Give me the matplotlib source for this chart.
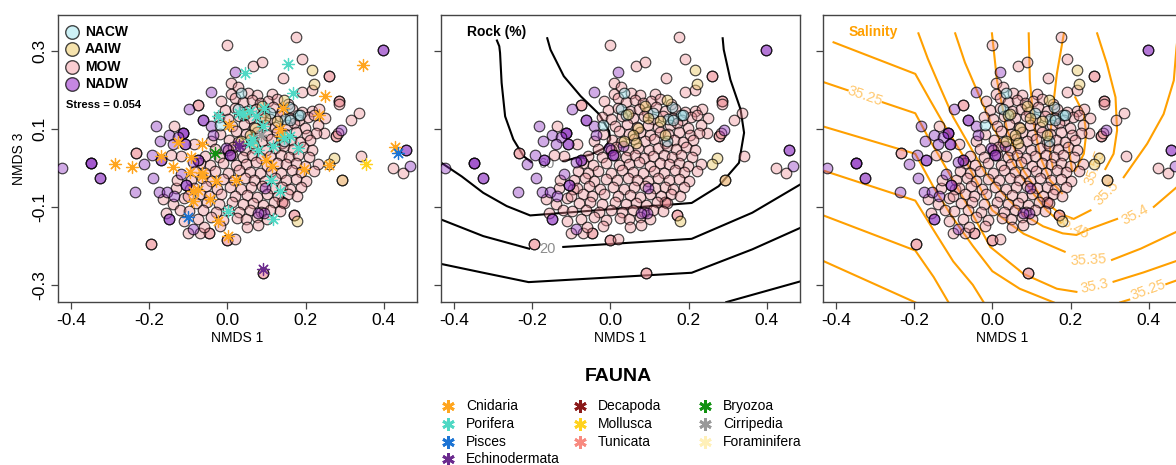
import numpy as np
import matplotlib
matplotlib.use("Agg")
import matplotlib.pyplot as plt
from matplotlib.colors import to_rgba

plt.rcParams['font.family'] = ['Liberation Sans', 'DejaVu Sans']

# ---------------- data ----------------
water_masses = ['NACW', 'AAIW', 'MOW', 'NADW']
stress_text = 'Stress = 0.054'

nacw_pts = [(0.028, 0.150), (-0.020, 0.110), (0.040, 0.135), (0.157, 0.155), (0.180, 0.135),
            (0.148, 0.125), (0.145, 0.070), (0.036, 0.192), (0.160, 0.123), (0.185, 0.136),
            (0.110, 0.140)]

aaiw_pts = [(0.217, 0.250), (0.222, 0.214), (0.273, 0.026), (0.260, 0.009), (0.179, -0.137),
            (0.144, 0.175), (0.045, 0.137), (0.088, 0.158), (0.096, 0.128), (0.070, 0.103),
            (0.058, 0.085), (0.066, 0.064), (0.139, 0.085), (0.126, 0.120), (0.036, 0.068),
            (0.293, -0.030)]

mow_pts = [
    # outer points
    (0.000, 0.315), (0.176, 0.335), (0.066, 0.260), (0.088, 0.272), (0.190, 0.280), (0.260, 0.235),
    (0.260, 0.235), (0.142, 0.230), (0.009, 0.218), (0.028, 0.207), (0.010, 0.190), (0.053, 0.192),
    (0.075, 0.188), (0.190, 0.194), (0.217, 0.200), (0.286, 0.171), (0.286, 0.171), (0.286, 0.165),
    (0.019, 0.178), (0.114, 0.190), (0.337, 0.140), (0.316, 0.124), (0.217, 0.145), (0.234, 0.150),
    (0.251, 0.128), (0.247, 0.090), (0.277, 0.081), (0.277, 0.081), (0.282, 0.090), (0.342, 0.030),
    (0.293, -0.030), (0.423, 0.000), (0.449, -0.013), (-0.233, 0.037), (-0.233, 0.037),
    (-0.074, 0.160), (-0.074, 0.160), (-0.046, -0.167), (-0.046, -0.167), (0.000, -0.185),
    (0.000, -0.185), (0.019, -0.182), (-0.196, -0.195), (-0.196, -0.195), (0.092, -0.270),
    (0.092, -0.270), (0.170, -0.120), (0.170, -0.120), (0.139, -0.088), (0.139, -0.088),
    (0.002, 0.047), (0.002, 0.047), (-0.070, -0.167), (-0.110, -0.137), (-0.100, -0.167),
    # left mixed area
    (-0.140, -0.092), (-0.122, -0.108), (-0.131, -0.052), (-0.112, -0.078), (-0.158, -0.116),
    (-0.118, 0.031), (-0.145, 0.034), (-0.136, 0.107), (-0.084, 0.060), (-0.043, 0.068),
    (-0.128, -0.030), (-0.095, -0.055), (-0.165, -0.080),
    # dense core
    (-0.015, 0.172), (0.040, 0.168), (0.062, 0.175), (0.083, 0.166), (0.105, 0.171), (0.128, 0.176),
    (0.155, 0.163),
    (-0.005, 0.148), (0.020, 0.153), (0.051, 0.146), (0.074, 0.151), (0.093, 0.144), (0.118, 0.155),
    (0.141, 0.147), (0.166, 0.152), (0.190, 0.143),
    (-0.022, 0.131), (0.002, 0.126), (0.031, 0.134), (0.058, 0.127), (0.086, 0.132), (0.108, 0.125),
    (0.134, 0.133), (0.161, 0.128), (0.182, 0.122), (0.205, 0.130), (0.222, 0.136),
    (0.012, 0.108), (0.043, 0.113), (0.069, 0.106), (0.097, 0.111), (0.121, 0.104), (0.152, 0.109),
    (0.171, 0.114), (0.198, 0.103), (0.232, 0.110),
    (-0.018, 0.088), (0.021, 0.094), (0.049, 0.086), (0.076, 0.091), (0.101, 0.085), (0.126, 0.093),
    (0.147, 0.087), (0.176, 0.092), (0.203, 0.084), (0.226, 0.089),
    (0.003, 0.071), (0.028, 0.066), (0.061, 0.073), (0.089, 0.068), (0.112, 0.074), (0.139, 0.065),
    (0.163, 0.071), (0.186, 0.066), (0.211, 0.072),
    (-0.031, 0.049), (0.014, 0.053), (0.046, 0.047), (0.072, 0.052), (0.098, 0.046), (0.121, 0.051),
    (0.144, 0.055), (0.168, 0.048), (0.194, 0.053), (0.216, 0.046),
    (-0.056, 0.031), (-0.021, 0.027), (0.011, 0.033), (0.039, 0.028), (0.062, 0.032), (0.087, 0.026),
    (0.109, 0.031), (0.136, 0.034), (0.158, 0.027), (0.181, 0.032), (0.208, 0.028),
    (-0.071, 0.012), (-0.044, 0.008), (-0.011, 0.013), (0.021, 0.007), (0.048, 0.011), (0.074, 0.014),
    (0.102, 0.006), (0.126, 0.012), (0.151, 0.009), (0.176, 0.013), (0.199, 0.006), (0.231, 0.011),
    (-0.082, -0.008), (-0.058, -0.013), (-0.031, -0.007), (0.001, -0.012), (0.029, -0.006),
    (0.058, -0.011), (0.084, -0.014), (0.111, -0.008), (0.138, -0.012), (0.166, -0.006),
    (0.189, -0.011), (0.221, -0.009),
    (-0.092, -0.031), (-0.066, -0.027), (-0.041, -0.033), (-0.012, -0.028), (0.016, -0.032),
    (0.044, -0.026), (0.069, -0.031), (0.096, -0.034), (0.121, -0.027), (0.149, -0.032),
    (0.176, -0.028), (0.201, -0.033),
    (-0.086, -0.052), (-0.054, -0.047), (-0.026, -0.053), (0.006, -0.048), (0.034, -0.054),
    (0.061, -0.049), (0.089, -0.046), (0.114, -0.052), (0.139, -0.048), (0.161, -0.054),
    (0.188, -0.050),
    (-0.101, -0.071), (-0.071, -0.068), (-0.046, -0.073), (-0.016, -0.067), (0.019, -0.072),
    (0.051, -0.069), (0.076, -0.074), (0.101, -0.068), (0.129, -0.071), (0.154, -0.066),
    (0.179, -0.073),
    (-0.079, -0.091), (-0.052, -0.088), (-0.021, -0.093), (0.011, -0.087), (0.039, -0.092),
    (0.066, -0.089), (0.091, -0.094), (0.119, -0.088), (0.146, -0.091),
    (-0.099, -0.111), (-0.061, -0.108), (-0.029, -0.113), (0.001, -0.107), (0.031, -0.112),
    (0.059, -0.109), (0.086, -0.114), (0.109, -0.108), (0.134, -0.111),
    (-0.076, -0.131), (-0.041, -0.127), (-0.011, -0.133), (0.024, -0.128), (0.049, -0.132),
    (0.076, -0.126), (0.101, -0.131),
    (-0.059, -0.151), (-0.019, -0.148), (0.051, -0.152), (0.079, -0.147),
]

nadw_pts = [
    (0.398, 0.303), (0.398, 0.303), (-0.422, 0.000), (-0.349, 0.013), (-0.349, 0.013), (-0.349, 0.013),
    (-0.325, -0.026), (-0.325, -0.026), (-0.235, -0.062), (-0.213, 0.011), (-0.193, 0.034),
    (-0.183, 0.107), (-0.172, 0.068), (-0.170, 0.021), (-0.170, 0.021), (-0.189, -0.026),
    (-0.175, -0.062), (-0.153, -0.062), (-0.150, 0.085), (-0.113, 0.090), (-0.113, 0.090),
    (-0.113, 0.090), (-0.107, 0.060), (-0.107, 0.060), (-0.097, 0.150), (-0.063, 0.124),
    (-0.063, 0.124), (-0.041, 0.107), (-0.037, 0.085), (-0.076, 0.021), (-0.076, 0.021),
    (-0.118, -0.017), (-0.105, -0.043), (-0.105, -0.043), (-0.136, -0.073), (-0.149, -0.132),
    (-0.149, -0.132), (-0.089, -0.158), (0.458, 0.047), (0.458, 0.047), (0.467, 0.004),
    (0.290, 0.098), (-0.041, 0.194), (0.019, 0.245), (-0.003, 0.050), (0.032, 0.055),
    (0.006, 0.032), (0.006, 0.032), (-0.087, 0.016), (0.095, -0.116), (-0.125, 0.080),
    (-0.140, 0.060), (0.096, -0.051), (0.078, -0.115),
]

fauna_names = ['Cnidaria', 'Porifera', 'Pisces', 'Echinodermata', 'Decapoda', 'Mollusca',
               'Tunicata', 'Bryozoa', 'Cirripedia', 'Foraminifera']
fauna_colors = ['#FFA51E', '#4FD8C4', '#1C74D4', '#6B2A8E', '#8B1A1A', '#FFD21E',
                '#F88A80', '#119111', '#999999', '#FFF0B8']

fauna_pts = {
    'Cnidaria': [(0.346, 0.265), (0.249, 0.184), (0.234, 0.135), (0.142, 0.154), (0.138, 0.081),
                 (0.004, 0.109), (-0.126, 0.067), (-0.064, 0.062), (-0.169, 0.030), (-0.288, 0.010),
                 (-0.243, 0.002), (-0.139, 0.002), (-0.094, 0.027), (-0.096, -0.011), (-0.066, -0.013),
                 (-0.030, -0.034), (0.021, -0.032), (-0.088, -0.060), (-0.075, -0.056),
                 (-0.089, -0.085), (-0.045, -0.081), (-0.024, -0.135), (0.002, -0.175),
                 (0.100, 0.020), (0.115, 0.004), (0.197, -0.004), (0.261, 0.007), (0.430, 0.054),
                 (0.135, 0.100), (-0.065, -0.020)],
    'Porifera': [(0.044, 0.242), (0.155, 0.267), (0.168, 0.192), (-0.024, 0.134), (0.031, 0.141),
                 (0.057, 0.145), (0.074, 0.134), (0.095, 0.154), (0.091, 0.107), (0.066, 0.073),
                 (0.078, 0.047), (0.117, 0.056), (0.146, 0.077), (0.159, 0.081), (0.180, 0.051),
                 (0.112, -0.030), (0.134, -0.060), (0.002, -0.111), (0.117, -0.131),
                 (0.057, 0.064), (0.040, 0.137)],
    'Pisces': [(0.437, 0.037), (-0.100, -0.127)],
    'Echinodermata': [(0.091, -0.260), (0.031, 0.058)],
    'Mollusca': [(0.355, 0.011)],
    'Bryozoa': [(-0.032, 0.038)],
    'Cirripedia': [(0.085, 0.085)],
}

# Rock (%) contour lines (None = gap for label)
rock_lines = [
    [(-0.291, 0.329), (-0.284, 0.312), (-0.282, 0.295), (-0.278, 0.218), (-0.269, 0.132),
     (-0.248, 0.073), (-0.222, 0.030), (-0.200, 0.013), None, (-0.123, 0.017), (-0.050, 0.034),
     (-0.015, 0.051), (0.000, 0.073), (-0.003, 0.094), (-0.028, 0.137), (-0.076, 0.184),
     (-0.119, 0.235), (-0.153, 0.303), (-0.162, 0.335)],
    [(-0.444, 0.021), (-0.380, -0.022), (-0.325, -0.064), (-0.265, -0.098), (-0.205, -0.122),
     (0.208, -0.090), (0.277, -0.047), (0.329, 0.013), (0.342, 0.090), (0.333, 0.150),
     (0.307, 0.226), (0.290, 0.303), (0.287, 0.335)],
    [(-0.444, -0.128), (-0.325, -0.175), (-0.205, -0.208), None, (-0.123, -0.203),
     (0.208, -0.182), (0.363, -0.115), (0.490, -0.040)],
    [(-0.444, -0.244), (-0.325, -0.269), (-0.209, -0.293), (0.208, -0.269), (0.363, -0.209),
     (0.490, -0.152)],
    [(0.294, -0.345), (0.490, -0.290)],
]
rock_labels = [('60', -0.163, 0.011, 0), ('20', -0.160, -0.208, 0)]

sal_lines = [
    # left family
    [(-0.406, 0.322), (-0.197, 0.241), (-0.160, 0.175), (-0.120, 0.105), (-0.080, 0.040),
     (-0.040, -0.035), (0.000, -0.109), (0.080, -0.169), (0.157, -0.203), (0.185, -0.215), None,
     (0.306, -0.236), (0.380, -0.207), (0.490, -0.155)],
    [(-0.432, 0.220), (-0.370, 0.199), None, (-0.280, 0.168), (-0.197, 0.140), (-0.165, 0.080),
     (-0.130, 0.020), (-0.090, -0.050), (-0.050, -0.120), (-0.005, -0.203), (0.080, -0.272),
     (0.165, -0.310), (0.215, -0.318), None, (0.310, -0.292), (0.387, -0.268), (0.490, -0.232)],
    [(-0.432, 0.106), (-0.197, 0.036), (-0.150, -0.050), (-0.100, -0.130), (-0.050, -0.200),
     (0.000, -0.265), (0.070, -0.310), (0.157, -0.345)],
    [(-0.432, -0.007), (-0.197, -0.084), (-0.150, -0.160), (-0.100, -0.240), (-0.050, -0.300),
     (-0.022, -0.345)],
    [(-0.432, -0.122), (-0.197, -0.212), (-0.150, -0.280), (-0.112, -0.345)],
    [(-0.432, -0.239), (-0.197, -0.345)],
    [(0.327, -0.345), (0.350, -0.338), None, (0.445, -0.298), (0.490, -0.282)],
    # top family
    [(-0.189, 0.345), (-0.165, 0.280), (-0.135, 0.210), (-0.100, 0.130), (-0.060, 0.060),
     (-0.020, -0.010), (0.030, -0.070), (0.080, -0.120), (0.130, -0.150), (0.180, -0.168),
     (0.215, -0.172), (0.251, -0.156), (0.319, -0.131), None, (0.413, -0.100), (0.471, -0.050),
     (0.490, -0.030)],
    [(-0.095, 0.345), (-0.070, 0.270), (-0.040, 0.200), (-0.010, 0.130), (0.025, 0.060),
     (0.060, 0.000), (0.100, -0.060), (0.140, -0.110), (0.175, -0.140)],
    [(-0.001, 0.345), (0.012, 0.224), (0.038, 0.096), (0.080, -0.007), (0.131, -0.084),
     (0.174, -0.118), (0.208, -0.131), (0.251, -0.109), None, (0.336, -0.024), (0.396, 0.062),
     (0.438, 0.138), (0.464, 0.224), (0.471, 0.309), (0.475, 0.345)],
    [(0.093, 0.345), (0.096, 0.224), (0.106, 0.113), (0.123, 0.027), (0.148, -0.032),
     (0.178, -0.065)],
    [(0.268, 0.345), (0.293, 0.267), (0.315, 0.181), (0.319, 0.096), (0.310, 0.036), (0.289, -0.003)],
    [(0.183, 0.345), (0.165, 0.241), (0.153, 0.138), (0.147, 0.070), (0.148, 0.036), (0.155, 0.000)],
    [(0.212, 0.181), (0.234, 0.138), (0.240, 0.087), (0.234, 0.036), (0.212, -0.007)],
    [(0.195, 0.062), (0.200, 0.020), (0.204, -0.007)],
]
sal_labels = [('35.25', -0.325, 0.183, -19), ('35.5', 0.293, -0.066, 45), ('35.4', 0.366, -0.120, 28),
              ('35.35', 0.246, -0.236, 3), ('35.3', 0.262, -0.303, 12), ('35.25', 0.398, -0.314, 20),
              ('35.45', 0.205, -0.150, -30), ('35.55', 0.262, 0.000, 70)]

# ---------------- styling ----------------
W, H = 1176, 465
XLIM = (-0.433, 0.485)
YLIM = (-0.344, 0.392)
XTICKS = [-0.4, -0.2, 0.0, 0.2, 0.4]
YTICKS = [-0.3, -0.1, 0.1, 0.3]

fills = {
    'NACW': to_rgba('#96E1EB', 0.45),
    'AAIW': to_rgba('#EBC864', 0.45),
    'MOW': to_rgba('#EE8A93', 0.38),
    'NADW': to_rgba('#8A2BC0', 0.40),
}
legend_fills = {
    'NACW': '#CDF1F6', 'AAIW': '#F6E3AD', 'MOW': '#F9CDD1', 'NADW': '#C587E2',
}
point_groups = [('MOW', mow_pts), ('NADW', nadw_pts), ('NACW', nacw_pts), ('AAIW', aaiw_pts)]
EDGE = (0, 0, 0, 0.72)


def xy(pts):
    a = np.array([(np.nan, np.nan) if p is None else p for p in pts], float)
    return a[:, 0], a[:, 1]


def rect(l, t, r, b):
    return [l / W, 1 - b / H, (r - l) / W, (b - t) / H]


fig = plt.figure(figsize=(W / 100, H / 100), dpi=100)
ax1 = fig.add_axes(rect(58, 15, 417, 302))
ax2 = fig.add_axes(rect(441, 15, 800, 302))
ax3 = fig.add_axes(rect(823, 15, 1182, 302))

for i, ax in enumerate([ax1, ax2, ax3]):
    ax.set_xlim(*XLIM)
    ax.set_ylim(*YLIM)
    ax.set_xticks(XTICKS)
    ax.set_xticklabels(['%.1f' % v for v in XTICKS])
    ax.set_yticks(YTICKS)
    if i == 0:
        ax.set_yticklabels(['%.1f' % v for v in YTICKS], rotation=90, va='center')
        ax.set_ylabel('NMDS 3', fontsize=10, labelpad=4)
    else:
        ax.set_yticklabels([])
    ax.tick_params(direction='out', length=5, width=0.9, colors='#444444', labelcolor='black',
                   labelsize=12.5, pad=3)
    ax.set_xlabel('NMDS 1', fontsize=10, labelpad=2)
    for s in ax.spines.values():
        s.set_color('#444444')
        s.set_linewidth(1.0)
    for name, pts in point_groups:
        x, y = xy(pts)
        ax.scatter(x, y, s=58, facecolors=[fills[name]], edgecolors=[EDGE], linewidths=0.85,
                   zorder=3)

# contours
for line in rock_lines:
    x, y = xy(line)
    ax2.plot(x, y, color='black', lw=1.5, zorder=2, solid_capstyle='butt')
for s, x, y, r in rock_labels:
    ax2.text(x, y, s, color='#8C8C8C', fontsize=10.5, rotation=r, ha='center', va='center', zorder=2)

for line in sal_lines:
    x, y = xy(line)
    ax3.plot(x, y, color='#FFA000', lw=1.5, zorder=2, clip_on=True)
for s, x, y, r in sal_labels:
    ax3.text(x, y, s, color='#FFC86E', fontsize=10.5, rotation=r, ha='center', va='center',
             rotation_mode='anchor', zorder=2)

ax2.text(0.072, 0.941, 'Rock (%)', transform=ax2.transAxes, fontsize=10, fontweight='bold',
         ha='left', va='center')
ax3.text(0.072, 0.941, 'Salinity', transform=ax3.transAxes, fontsize=10, fontweight='bold',
         color='#FFA000', ha='left', va='center')

# fauna asterisks in panel 1
for name, col in zip(fauna_names, fauna_colors):
    if name in fauna_pts:
        x, y = xy(fauna_pts[name])
        ax1.scatter(x, y, marker=(8, 2, 0), s=75, color=col, linewidths=0.9, zorder=4)

# water mass legend in panel 1
for k, name in enumerate(water_masses):
    yy = 0.941 - k * 0.0605
    ax1.scatter([0.039], [yy], s=95, facecolors=[legend_fills[name]], edgecolors=[EDGE],
                linewidths=1.0, transform=ax1.transAxes, zorder=5, clip_on=False)
    ax1.text(0.075, yy, name, transform=ax1.transAxes, fontsize=10, fontweight='bold',
             ha='left', va='center')
ax1.text(0.022, 0.686, stress_text, transform=ax1.transAxes, fontsize=8, fontweight='bold',
         ha='left', va='center')

# FAUNA legend at the bottom
lg = fig.add_axes([0, 0, 1, 1], zorder=-1)
lg.set_xlim(0, W)
lg.set_ylim(H, 0)
lg.axis('off')
lg.text(618, 376, 'FAUNA', fontsize=14, fontweight='bold', ha='center', va='center')
col_x = [448, 580, 705]
col_rows = [4, 3, 3]
idx = 0
for c, nrows in enumerate(col_rows):
    for r in range(nrows):
        name = fauna_names[idx]
        col = fauna_colors[idx]
        yy = 406 + r * 17.8
        lg.plot([col_x[c]], [yy], marker=(6, 2, 0), ms=9, mew=2.0, color=col, ls='none')
        lg.text(col_x[c] + 18, yy, name, fontsize=10, ha='left', va='center')
        idx += 1

fig.savefig('out.png', dpi=100)
